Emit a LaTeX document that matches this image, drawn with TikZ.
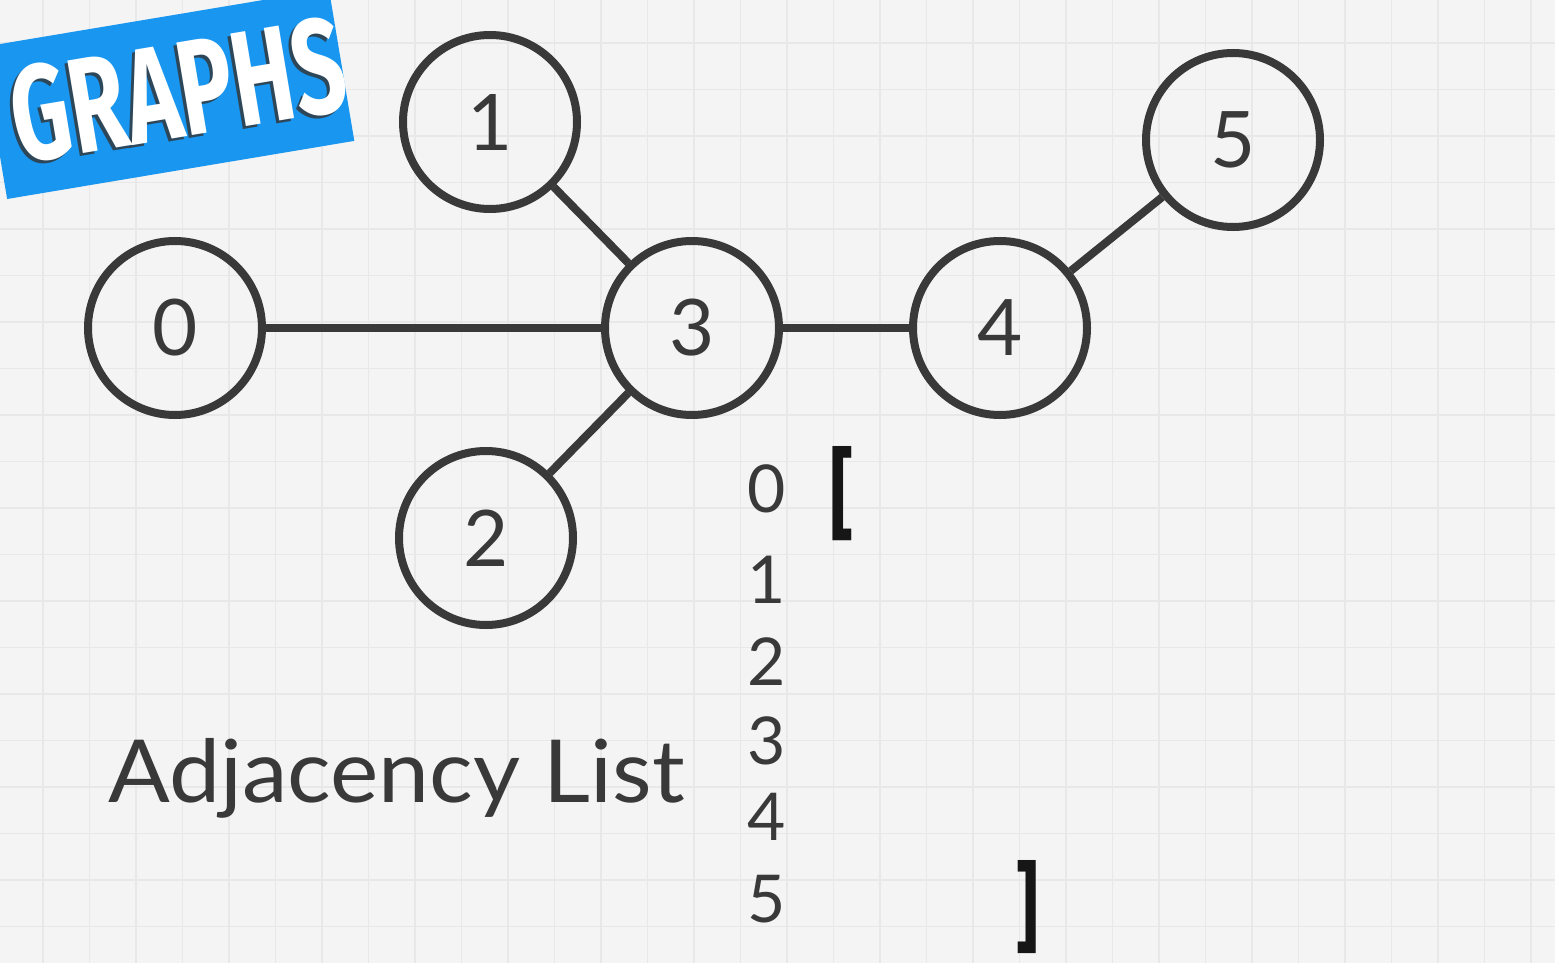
\documentclass[tikz,border=0pt]{standalone}
\usepackage{fontspec}
\setmainfont{Lato}
\newfontfamily\firafont{Fira Sans}
\usetikzlibrary{positioning}
\definecolor{bgcol}{HTML}{F4F4F4}
\definecolor{gridcol}{HTML}{E8E8E8}
\definecolor{inkcol}{HTML}{393939}
\definecolor{bannercol}{HTML}{1896F0}
\definecolor{brackcol}{HTML}{161616}
\tikzset{
  vertex/.style={circle, draw=inkcol, line width=8pt, minimum size=174pt, inner sep=0pt,
    text=inkcol, font=\fontsize{78}{80}\selectfont},
  edge/.style={draw=inkcol, line width=8pt},
  listnum/.style={text=inkcol, inner sep=0pt, font=\fontsize{66}{70}\selectfont},
  brack/.style={text=brackcol, inner sep=0pt},
}
\begin{document}
\begin{tikzpicture}[x=1pt,y=1pt]
\useasboundingbox (0,0) rectangle (1555,-963);
\clip (0,0) rectangle (1555,-963);
\fill[bgcol] (0,0) rectangle (1555,-963);
\foreach \i in {-1,...,33} {
  \draw[gridcol, line width=1.5pt] ({43+46.5*\i},0) -- ++(0,-963);
}
\foreach \j in {-1,...,20} {
  \draw[gridcol, line width=1.5pt] (0,{-43-46.5*\j}) -- ++(1555,0);
}
% banner
\node[fill=bannercol, rotate=9.5, minimum width=352pt, minimum height=154pt, inner sep=0pt] (banner) at (168,-94) {};
\node[rotate=9.5, inner sep=0pt, text=black!80, opacity=0.8] (bannershadow) at (175,-93) {\resizebox{336pt}{96pt}{\firafont\bfseries GRAPHS}};
\node[rotate=9.5, inner sep=0pt, text=white] (bannertext) at (178,-90) {\resizebox{336pt}{96pt}{\firafont\bfseries GRAPHS}};
% graph
\node[vertex] (n0) at (175,-328) {0};
\node[vertex] (n1) at (490,-122) {1};
\node[vertex] (n2) at (486,-538) {2};
\node[vertex] (n3) at (692,-328) {3};
\node[vertex] (n4) at (1000,-328) {4};
\node[vertex] (n5) at (1233,-140) {5};
\draw[edge] (n0) -- (n3);
\draw[edge] (n1) -- (n3);
\draw[edge] (n2) -- (n3);
\draw[edge] (n3) -- (n4);
\draw[edge] (n4) -- (n5);
% adjacency list
\node[anchor=base west, inner sep=0pt, text=inkcol, xscale=1.05, font=\fontsize{87}{90}\selectfont] (title) at (108,-802) {Adjacency List};
\node[listnum] (l0) at (767,-489) {0};
\node[listnum] (l1) at (767,-580) {1};
\node[listnum] (l2) at (767,-662) {2};
\node[listnum] (l3) at (767,-741) {3};
\node[listnum] (l4) at (767,-817) {4};
\node[listnum] (l5) at (767,-899) {5};
\node[brack] (lb) at (841.5,-494) {\resizebox{23pt}{82pt}{\firafont\bfseries [}};
\node[brack] (rb) at (1027.5,-907.5) {\resizebox{22pt}{81pt}{\firafont\bfseries ]}};
\end{tikzpicture}
\end{document}
